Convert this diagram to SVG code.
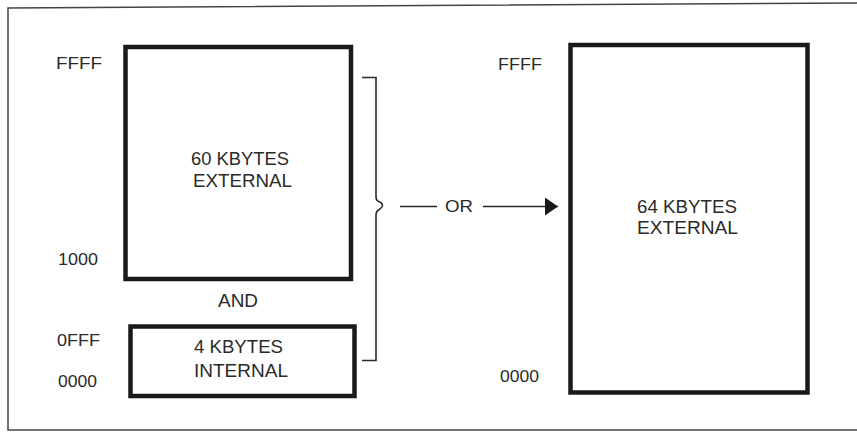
<svg xmlns="http://www.w3.org/2000/svg" width="857" height="432" viewBox="0 0 857 432">
  <style>
    .frame { fill: none; stroke: #444; stroke-width: 1.5; }
    .box { fill: none; stroke: #1a1a1a; stroke-width: 4.5; }
    .line { fill: none; stroke: #2a2a2a; stroke-width: 1.6; }
    .lbl { font-family: "Liberation Sans", Arial, sans-serif; font-size: 16px; fill: #2a2a2a; }
    .big { font-family: "Liberation Sans", Arial, sans-serif; font-size: 19px; fill: #2a2a2a; }
  </style>
  <defs>
    <marker id="arrow" markerWidth="13" markerHeight="18" refX="13" refY="9" orient="auto" markerUnits="userSpaceOnUse">
      <path d="M0,0 L13,9 L0,18 Z" fill="#1a1a1a"/>
    </marker>
  </defs>
  <rect width="857" height="432" fill="#ffffff"/>
  <path class="frame" d="M857,3 L8,8 L8,430 L857,430"/>

  <g id="node-60k">
    <rect class="box" x="125.5" y="47" width="225.5" height="232"/>
    <text class="big" x="191" y="165" textLength="98" lengthAdjust="spacingAndGlyphs">60 KBYTES</text>
    <text class="big" x="193" y="187" textLength="99" lengthAdjust="spacingAndGlyphs">EXTERNAL</text>
  </g>
  <g id="node-4k">
    <rect class="box" x="130.5" y="326.5" width="224" height="69.5"/>
    <text class="big" x="194" y="353" textLength="89" lengthAdjust="spacingAndGlyphs">4 KBYTES</text>
    <text class="big" x="194" y="377" textLength="94" lengthAdjust="spacingAndGlyphs">INTERNAL</text>
  </g>
  <g id="node-64k">
    <rect class="box" x="570.5" y="45" width="237" height="347.5"/>
    <text class="big" x="637" y="213" textLength="100" lengthAdjust="spacingAndGlyphs">64 KBYTES</text>
    <text class="big" x="637" y="234" textLength="101" lengthAdjust="spacingAndGlyphs">EXTERNAL</text>
  </g>
  <g id="labels">
    <text class="lbl" x="56" y="69" textLength="46" lengthAdjust="spacingAndGlyphs">FFFF</text>
    <text class="lbl" x="58" y="265" textLength="40" lengthAdjust="spacingAndGlyphs">1000</text>
    <text class="big" x="218" y="307" textLength="40" lengthAdjust="spacingAndGlyphs">AND</text>
    <text class="lbl" x="57" y="346" textLength="43" lengthAdjust="spacingAndGlyphs">0FFF</text>
    <text class="lbl" x="58" y="387" textLength="39" lengthAdjust="spacingAndGlyphs">0000</text>
    <text class="lbl" x="498" y="70" textLength="44" lengthAdjust="spacingAndGlyphs">FFFF</text>
    <text class="lbl" x="500" y="382" textLength="39" lengthAdjust="spacingAndGlyphs">0000</text>
  </g>
  <g id="connectors">
    <path class="line" d="M362,77.5 L376,77.5 L376,197 Q376,201 380,202 Q385,205 380,209 Q376,211 376,215 L376,360.5 L362,360.5"/>
    <line class="line" x1="400" y1="206.5" x2="437" y2="206.5"/>
    <text class="big" x="445" y="212" style="font-size:17px" textLength="28" lengthAdjust="spacingAndGlyphs">OR</text>
    <line class="line" x1="483" y1="206.5" x2="558" y2="206.5" marker-end="url(#arrow)"/>
  </g>
</svg>
